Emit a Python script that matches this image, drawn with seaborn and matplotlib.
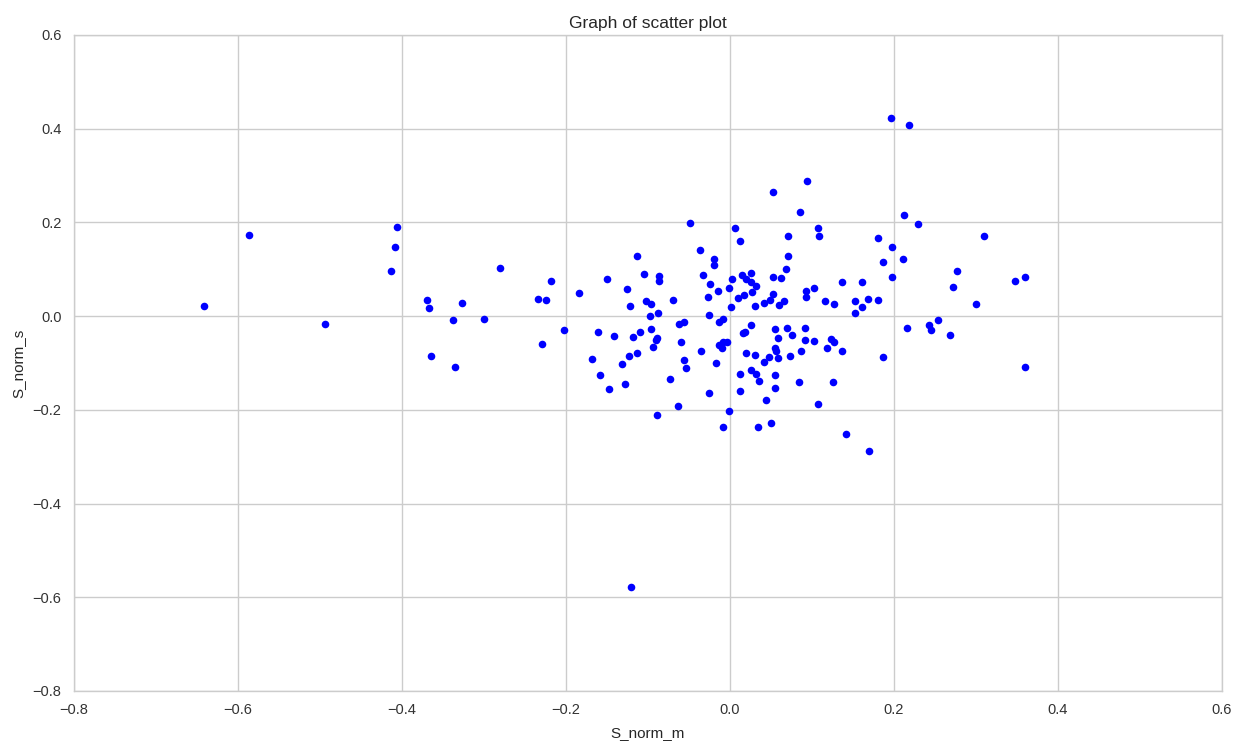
import matplotlib
matplotlib.use("Agg")
import matplotlib.pyplot as plt
import seaborn as sns
import pandas as pd

# Data values (S_norm_m, S_norm_s)
s_norm_m = [
    -0.641, -0.586, -0.494, -0.406, -0.408, -0.413, -0.370, -0.367, -0.327, -0.338,
    -0.300, -0.281, -0.365, -0.335, -0.234, -0.225, -0.218, -0.203, -0.229, -0.184,
    -0.161, -0.168, -0.158, -0.049, 0.006, 0.012, -0.036, -0.020, -0.019, -0.114,
    -0.105, -0.087, -0.086, -0.150, -0.126, -0.122, -0.103, -0.096, -0.070, -0.088,
    -0.098, -0.033, -0.025, -0.015, -0.027, -0.001, 0.003, 0.015, 0.019, 0.025,
    0.026, 0.032, 0.010, 0.017, 0.027, 0.030, 0.001, -0.026, -0.062, -0.056,
    -0.096, -0.089, -0.090, -0.094, -0.110, -0.118, -0.142, -0.114, -0.123, -0.132,
    -0.148, -0.128, -0.060, -0.056, -0.054, -0.073, -0.035, -0.014, -0.010, -0.008,
    -0.004, -0.017, -0.026, -0.064, -0.089, -0.001, -0.008, 0.012, 0.012, 0.026,
    0.032, 0.035, 0.020, 0.030, 0.016, 0.018, 0.026, -0.013, -0.008, 0.034,
    0.196, 0.218, 0.094, 0.053, 0.085, 0.212, 0.229, 0.107, 0.109, 0.071,
    0.181, 0.198, 0.187, 0.211, 0.198, 0.071, 0.068, 0.053, 0.062, 0.042,
    0.049, 0.052, 0.060, 0.066, 0.093, 0.093, 0.102, 0.136, 0.161, 0.116,
    0.127, 0.152, 0.168, 0.181, 0.161, 0.152, 0.216, 0.055, 0.069, 0.091,
    0.059, 0.076, 0.091, 0.103, 0.123, 0.127, 0.118, 0.136, 0.086, 0.073,
    0.055, 0.056, 0.059, 0.047, 0.042, 0.055, 0.055, 0.084, 0.125, 0.186,
    0.044, 0.107, 0.050, 0.142, 0.310, 0.277, 0.272, 0.347, 0.360, 0.300,
    0.243, 0.245, 0.254, 0.268, 0.360, 0.169, -0.121,
]
s_norm_s = [
    0.022, 0.173, -0.016, 0.191, 0.147, 0.096, 0.035, 0.018, 0.028, -0.009,
    -0.006, 0.103, -0.085, -0.109, 0.037, 0.035, 0.075, -0.029, -0.060, 0.050,
    -0.034, -0.091, -0.125, 0.198, 0.188, 0.160, 0.141, 0.123, 0.110, 0.128,
    0.091, 0.085, 0.076, 0.079, 0.057, 0.022, 0.032, 0.026, 0.035, 0.006,
    0.001, 0.088, 0.069, 0.054, 0.041, 0.060, 0.079, 0.088, 0.079, 0.092,
    0.072, 0.065, 0.038, 0.045, 0.051, 0.022, 0.019, 0.003, -0.016, -0.012,
    -0.028, -0.047, -0.050, -0.065, -0.034, -0.044, -0.043, -0.078, -0.085, -0.103,
    -0.156, -0.144, -0.056, -0.094, -0.110, -0.134, -0.075, -0.062, -0.068, -0.055,
    -0.055, -0.100, -0.163, -0.191, -0.210, -0.203, -0.237, -0.124, -0.159, -0.116,
    -0.124, -0.139, -0.078, -0.082, -0.037, -0.034, -0.019, -0.012, -0.006, -0.237,
    0.422, 0.407, 0.288, 0.266, 0.222, 0.216, 0.197, 0.188, 0.170, 0.170,
    0.166, 0.148, 0.116, 0.122, 0.084, 0.128, 0.100, 0.083, 0.082, 0.028,
    0.035, 0.047, 0.023, 0.032, 0.053, 0.040, 0.060, 0.072, 0.072, 0.032,
    0.026, 0.032, 0.037, 0.035, 0.019, 0.006, -0.025, -0.028, -0.025, -0.025,
    -0.046, -0.040, -0.050, -0.053, -0.049, -0.056, -0.068, -0.075, -0.075, -0.084,
    -0.068, -0.075, -0.089, -0.087, -0.097, -0.125, -0.153, -0.141, -0.141, -0.087,
    -0.178, -0.187, -0.228, -0.251, 0.170, 0.097, 0.062, 0.075, 0.084, 0.025,
    -0.019, -0.029, -0.009, -0.041, -0.109, -0.288, -0.577,
]

title_text = "Graph of scatter plot"
x_label = "S_norm_m"
y_label = "S_norm_s"
x_ticks = [-0.8, -0.6, -0.4, -0.2, 0.0, 0.2, 0.4, 0.6]
y_ticks = [-0.8, -0.6, -0.4, -0.2, 0.0, 0.2, 0.4, 0.6]

df = pd.DataFrame({x_label: s_norm_m, y_label: s_norm_s})

sns.set_style("whitegrid", {"grid.color": ".8", "axes.edgecolor": ".8"})
plt.rcParams["font.family"] = ["Liberation Sans", "DejaVu Sans"]

fig = plt.figure(figsize=(12.37, 7.41), dpi=100)
ax = fig.add_axes([74 / 1237, 1 - 691 / 741, (1222 - 74) / 1237, (691 - 35) / 741])

sns.scatterplot(data=df, x=x_label, y=y_label, ax=ax, color="#0000ff",
                s=30, linewidth=0, alpha=1.0)

ax.set_xlim(-0.8, 0.6)
ax.set_ylim(-0.8, 0.6)
ax.set_xticks(x_ticks)
ax.set_yticks(y_ticks)
ax.set_xticklabels([f"{t:.1f}".replace("-", "\u2212") for t in x_ticks])
ax.set_yticklabels([f"{t:.1f}".replace("-", "\u2212") for t in y_ticks])
ax.tick_params(axis="both", length=0, labelsize=10.5, colors="#333333", pad=9)
ax.set_title(title_text, fontsize=12.5, color="#262626", pad=5)
ax.set_xlabel(x_label, fontsize=11, color="#262626", labelpad=6)
ax.set_ylabel(y_label, fontsize=11, color="#262626", labelpad=5)
for sp in ax.spines.values():
    sp.set_color("#cccccc")
    sp.set_linewidth(1.0)
ax.grid(True, color="#cccccc", linewidth=1.0)

fig.savefig("out.png", dpi=100)
